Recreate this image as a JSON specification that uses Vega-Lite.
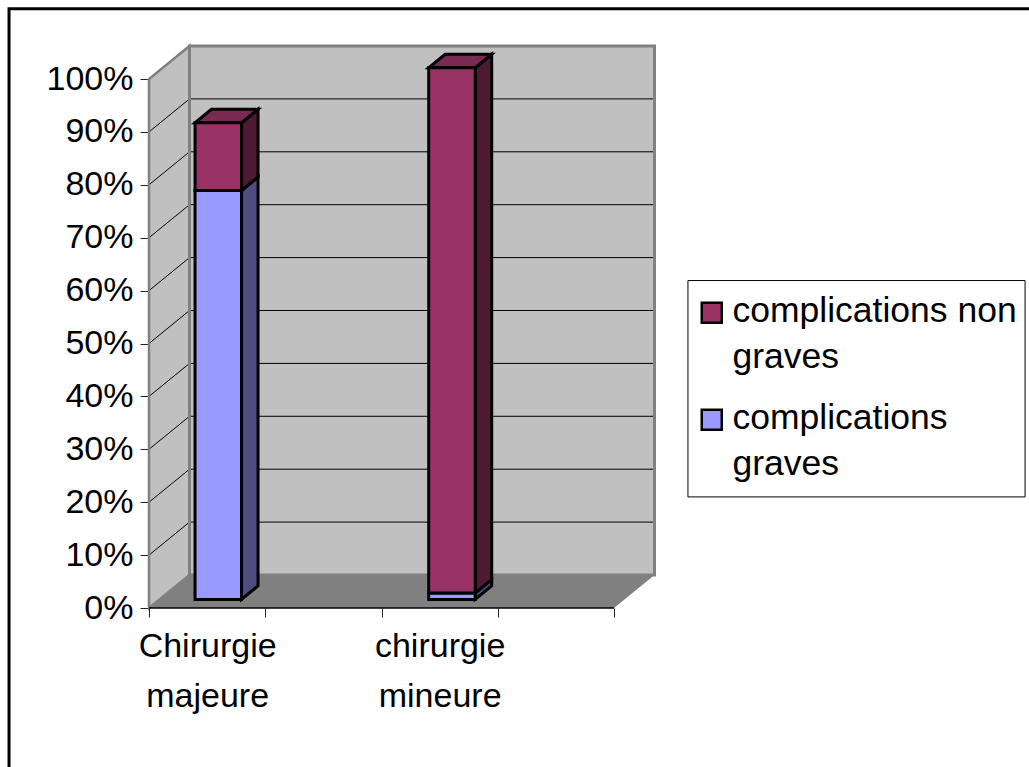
{
"$schema":"https://vega.github.io/schema/vega-lite/v6.json",
"width":506,"height":562,
"autosize":{"type":"none"},
"padding":{"left":149,"top":46,"right":374,"bottom":159},
"background":"white",
"config":{"view":{"stroke":null},"font":"Liberation Sans","style":{"guide-label":{"lineHeight":46.5}}},
"datasets":{
"bars":[
{"category":"Chirurgie majeure","series":"complications graves","value":77.3},
{"category":"Chirurgie majeure","series":"complications non graves","value":12.8},
{"category":"chirurgie mineure","series":"complications graves","value":1.2},
{"category":"chirurgie mineure","series":"complications non graves","value":99.3}
],
"ticks":[{"v":10},{"v":20},{"v":30},{"v":40},{"v":50},{"v":60},{"v":70},{"v":80},{"v":90}],
"side":[{"x":0,"y":0,"y2":100},{"x":0.1742,"y":6.24,"y2":106.24}],
"floor":[{"y":0,"x":0,"x2":2},{"y":6.24,"x":0.1742,"x2":2.1742}],
"back":[{"x":0.1742,"x2":2.1742,"y":6.24,"y2":106.24}],
"base":[{"x":0,"x2":2,"y":0}],
"frame":[{"x":-0.602,"x2":3.8,"y":-40,"y2":113.3}],
"legendbox":[{"x":2.318,"x2":3.768,"y":21.0,"y2":61.9}]
},
"layer":[
{"data":{"name":"frame"},"mark":{"type":"rect","fill":null,"stroke":"black","strokeWidth":3,"clip":false},
 "encoding":{"x":{"field":"x","type":"quantitative","scale":{"domain":[0,2.1763],"nice":false,"zero":false},
   "axis":{"values":[0,0.25,0.5,1,1.25,1.5,2],"domain":false,"grid":false,"title":null,"tickSize":9,"tickColor":"#222222","tickWidth":1,
     "tickOpacity":{"expr":"datum.value==0.25||datum.value==1.25?0:1"},
     "labelExpr":"datum.value==0.25?['Chirurgie','majeure']:datum.value==1.25?['chirurgie','mineure']:''",
     "labelFontSize":34,"labelColor":"black","labelPadding":12,"labelLineHeight":50,"labelAlign":"center","labelBaseline":"top","labelOverlap":false,"labelFlush":false}},
  "x2":{"field":"x2"},
  "y":{"field":"y","type":"quantitative","scale":{"domain":[0,106.24],"nice":false,"zero":false},
   "axis":{"values":[0,10,20,30,40,50,60,70,80,90,100],"labelExpr":"datum.value+'%'","domain":false,"grid":false,"title":null,"tickSize":9,"tickColor":"#222222","tickWidth":1,"labelFontSize":34,"labelColor":"black","labelPadding":7,"labelOverlap":false,"labelFlush":false}},
  "y2":{"field":"y2"}}},
{"data":{"name":"legendbox"},"mark":{"type":"rect","fill":"white","stroke":"black","strokeWidth":1,"clip":false},
 "encoding":{"x":{"field":"x","type":"quantitative"},"x2":{"field":"x2"},"y":{"field":"y","type":"quantitative"},"y2":{"field":"y2"}}},
{"data":{"name":"back"},"mark":{"type":"rect","fill":"#C0C0C0"},
 "encoding":{"x":{"field":"x","type":"quantitative"},"x2":{"field":"x2"},"y":{"field":"y","type":"quantitative"},"y2":{"field":"y2"}}},
{"data":{"name":"side"},"mark":{"type":"area","fill":"#C0C0C0"},
 "encoding":{"x":{"field":"x","type":"quantitative"},"y":{"field":"y","type":"quantitative"},"y2":{"field":"y2"}}},
{"data":{"name":"ticks"},"transform":[{"calculate":"datum.v+6.24","as":"vb"},{"calculate":"0.1742","as":"xb"},{"calculate":"2.1742","as":"xe"}],
 "mark":{"type":"rule","color":"black","strokeWidth":1},
 "encoding":{"x":{"field":"xb","type":"quantitative"},"x2":{"field":"xe"},"y":{"field":"vb","type":"quantitative"}}},
{"data":{"name":"ticks"},"transform":[{"calculate":"datum.v+6.24","as":"vb"},{"calculate":"0","as":"xa"},{"calculate":"0.1742","as":"xb"}],
 "mark":{"type":"rule","color":"black","strokeWidth":1},
 "encoding":{"x":{"field":"xa","type":"quantitative"},"x2":{"field":"xb"},"y":{"field":"v","type":"quantitative"},"y2":{"field":"vb"}}},
{"data":{"name":"back"},"mark":{"type":"rect","fill":null,"stroke":"#808080","strokeWidth":3},
 "encoding":{"x":{"field":"x","type":"quantitative"},"x2":{"field":"x2"},"y":{"field":"y","type":"quantitative"},"y2":{"field":"y2"}}},
{"data":{"name":"side"},"mark":{"type":"area","fill":"#C0C0C0","stroke":"#808080","strokeWidth":2.5,"fillOpacity":0},
 "encoding":{"x":{"field":"x","type":"quantitative"},"y":{"field":"y","type":"quantitative"},"y2":{"field":"y2"}}},
{"data":{"name":"floor"},"mark":{"type":"area","orient":"horizontal","fill":"#808080"},
 "encoding":{"y":{"field":"y","type":"quantitative"},"x":{"field":"x","type":"quantitative"},"x2":{"field":"x2"}}},
{"data":{"name":"base"},"mark":{"type":"rule","color":"black","strokeWidth":1.5},
 "encoding":{"x":{"field":"x","type":"quantitative"},"x2":{"field":"x2"},"y":{"field":"y","type":"quantitative"}}},
{"data":{"name":"bars"},"transform":[
  {"stack":"value","groupby":["category"],"sort":[{"field":"series","order":"ascending"}],"as":["s0","s1"]},
  {"calculate":"(datum.category=='Chirurgie majeure'?0:1.005)+0.198","as":"x0"},
  {"calculate":"datum.x0+0.2","as":"x1"},
  {"calculate":"[0,1]","as":"t"},{"flatten":["t"]},
  {"calculate":"datum.x1+datum.t*0.071","as":"sx"},
  {"calculate":"datum.s0+1.63+datum.t*2.55","as":"sa"},
  {"calculate":"datum.s1+1.63+datum.t*2.55","as":"sb"}],
 "mark":{"type":"area","stroke":"black","strokeWidth":3,"strokeJoin":"miter"},
 "encoding":{"x":{"field":"sx","type":"quantitative"},"y":{"field":"sa","type":"quantitative"},"y2":{"field":"sb"},"detail":[{"field":"category"},{"field":"series"}],
  "fill":{"condition":{"test":"datum.series=='complications graves'","value":"#4D4D80"},"value":"#4D1933"}}},
{"data":{"name":"bars"},"transform":[
  {"stack":"value","groupby":["category"],"sort":[{"field":"series","order":"ascending"}],"as":["s0","s1"]},
  {"filter":"datum.series=='complications non graves'"},
  {"calculate":"(datum.category=='Chirurgie majeure'?0:1.005)+0.198","as":"x0"},
  {"calculate":"[0,1]","as":"t"},{"flatten":["t"]},
  {"calculate":"datum.x0+datum.t*0.071","as":"ta"},
  {"calculate":"datum.x0+0.2+datum.t*0.071","as":"tb"},
  {"calculate":"datum.s1+1.63+datum.t*2.55","as":"ty"}],
 "mark":{"type":"area","orient":"horizontal","stroke":"black","strokeWidth":3,"fill":"#7A2952","strokeJoin":"miter"},
 "encoding":{"y":{"field":"ty","type":"quantitative"},"x":{"field":"ta","type":"quantitative"},"x2":{"field":"tb"},"detail":{"field":"category"}}},
{"data":{"name":"bars"},"transform":[
  {"stack":"value","groupby":["category"],"sort":[{"field":"series","order":"ascending"}],"as":["s0","s1"]},
  {"calculate":"(datum.category=='Chirurgie majeure'?0:1.005)+0.198","as":"x0"},
  {"calculate":"datum.x0+0.2","as":"x1"},
  {"calculate":"datum.s0+1.63","as":"f0"},
  {"calculate":"datum.s1+1.63","as":"f1"}],
 "mark":{"type":"rect","stroke":"black","strokeWidth":3},
 "encoding":{"x":{"field":"x0","type":"quantitative"},"x2":{"field":"x1"},"y":{"field":"f0","type":"quantitative"},"y2":{"field":"f1"},
  "fill":{"field":"series","type":"nominal","scale":{"domain":["complications non graves","complications graves"],"range":["#993366","#9999FF"]},
   "legend":{"title":null,"orient":"none","legendX":545,"legendY":249,"padding":0,"symbolType":"square","symbolSize":400,"symbolStrokeColor":"black","symbolStrokeWidth":2.5,"symbolOpacity":1,"symbolOffset":0,
     "labelFontSize":35.5,"labelColor":"black","labelOffset":3,"labelLimit":400,"rowPadding":24,"symbolBaseline":"top","labelBaseline":"alphabetic",
     "labelExpr":"datum.label=='complications non graves'?['complications non','graves']:['complications','graves']",
     "encoding":{"labels":{"dy":{"value":9.2}}}}}}}
]
}
